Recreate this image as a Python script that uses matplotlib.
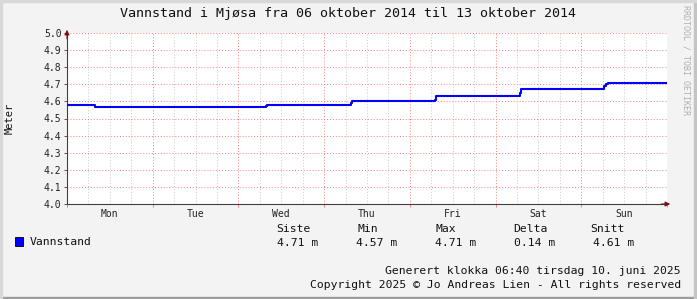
import matplotlib
matplotlib.use("Agg")
import matplotlib.pyplot as plt
from matplotlib.patches import Rectangle

# data (days after Mon 06 Oct 2014 00:00, water level in metres)
days_t = [0.0, 0.33, 2.32, 2.33, 3.31, 3.32, 4.29, 4.31, 5.28, 5.30, 6.27, 6.29, 6.31, 7.0]
level = [4.58, 4.57, 4.575, 4.58, 4.59, 4.60, 4.61, 4.63, 4.65, 4.67, 4.69, 4.70, 4.71, 4.71]
day_names = ["Mon", "Tue", "Wed", "Thu", "Fri", "Sat", "Sun"]
y_ticks = [4.0, 4.1, 4.2, 4.3, 4.4, 4.5, 4.6, 4.7, 4.8, 4.9, 5.0]
stat_heads = ["Siste", "Min", "Max", "Delta", "Snitt"]
stat_vals = ["4.71 m", "4.57 m", "4.71 m", "0.14 m", "4.61 m"]

W, H = 697, 299
mono = "DejaVu Sans Mono"
fig = plt.figure(figsize=(W / 100, H / 100), dpi=100, facecolor="#f3f3f3")

def px(x, y):
    return x / W, 1 - y / H

# frame shading
fig.patches.append(Rectangle((0, 0), 1, 2 / H, transform=fig.transFigure, color="#9c9c9c", zorder=0))
fig.patches.append(Rectangle((1 - 3 / W, 0), 3 / W, 1, transform=fig.transFigure, color="#c4c4c4", zorder=0))
fig.patches.append(Rectangle((0, 1 - 2 / H), 1, 2 / H, transform=fig.transFigure, color="#d8d8d8", zorder=0))
fig.patches.append(Rectangle((0, 0), 2 / W, 1, transform=fig.transFigure, color="#d8d8d8", zorder=0))

x0, x1, ytop, ybot = 67, 667, 33, 204
ax = fig.add_axes([x0 / W, 1 - ybot / H, (x1 - x0) / W, (ybot - ytop) / H])
ax.set_facecolor("white")
ax.set_xlim(0, 7)
ax.set_ylim(4.0, 5.0)

# grid
for d in range(1, 28):
    if d % 4:
        ax.axvline(d / 4, color="#c8c8c8", lw=0.7, ls=(0, (1, 2)), zorder=1)
for d in range(1, 8):
    ax.axvline(d, color="#f08080", lw=0.7, ls=(0, (1, 2)), zorder=1)
for v in y_ticks[1:]:
    ax.axhline(v, color="#f08080", lw=0.7, ls=(0, (1, 2)), zorder=1)

ax.step(days_t, level, where="post", color="#0000ff", lw=1.5, zorder=3)

for s in ["top", "right"]:
    ax.spines[s].set_visible(False)
for s in ["left", "bottom"]:
    ax.spines[s].set_color("#404040")
    ax.spines[s].set_linewidth(0.8)

ax.set_yticks(y_ticks)
ax.set_yticklabels(["%.1f" % v for v in y_ticks], fontfamily=mono, fontsize=7, color="#222222")
ax.tick_params(axis="y", length=2, width=0.6, color="#404040", pad=2)
ax.set_xticks(range(8))
ax.set_xticklabels([])
ax.tick_params(axis="x", length=2, width=0.7, color="#f08080")
for i, name in enumerate(day_names):
    ax.text(i + 0.5, -0.03, name, transform=ax.get_xaxis_transform(), ha="center", va="top",
            fontfamily=mono, fontsize=7, color="#222222")

# arrows on axes
ax.annotate("", xy=(7.07, 4.0), xytext=(6.9, 4.0), annotation_clip=False,
            arrowprops=dict(arrowstyle="-|>", color="#7a1010", lw=0.8, mutation_scale=7))
ax.annotate("", xy=(0, 5.035), xytext=(0, 4.95), annotation_clip=False,
            arrowprops=dict(arrowstyle="-|>", color="#7a1010", lw=0.8, mutation_scale=7))

fig.text(*px(348, 14), "Vannstand i Mjøsa fra 06 oktober 2014 til 13 oktober 2014",
         ha="center", va="center", fontfamily=mono, fontsize=9.6, color="#111111")
fig.text(*px(10, 118), "Meter", rotation=90, ha="center", va="center",
         fontfamily=mono, fontsize=7.5, color="#111111")
fig.text(*px(686, 5), "RRDTOOL / TOBI OETIKER", rotation=270, ha="center", va="top",
         fontfamily=mono, fontsize=6, color="#b0b0b0")

# legend
fig.patches.append(Rectangle(px(15, 246), 8 / W, 9 / H, transform=fig.transFigure,
                             facecolor="#0000ff", edgecolor="black", lw=0.6))
fig.text(*px(30, 242), "Vannstand", ha="left", va="center", fontfamily=mono, fontsize=8.2, color="#111111")
head_x = [276, 358, 436, 513, 590]
val_x = [277, 356, 435, 514, 593]
for hx, vx, h, v in zip(head_x, val_x, stat_heads, stat_vals):
    fig.text(*px(hx, 229), h, ha="left", va="center", fontfamily=mono, fontsize=8.2, color="#111111")
    fig.text(*px(vx, 243), v, ha="left", va="center", fontfamily=mono, fontsize=8.2, color="#111111")

fig.text(*px(681, 271), "Generert klokka 06:40 tirsdag 10. juni 2025", ha="right", va="center",
         fontfamily=mono, fontsize=8.2, color="#111111")
fig.text(*px(681, 285), "Copyright 2025 © Jo Andreas Lien - All rights reserved", ha="right", va="center",
         fontfamily=mono, fontsize=8.2, color="#111111")

fig.savefig("out.png", dpi=100, facecolor=fig.get_facecolor())
